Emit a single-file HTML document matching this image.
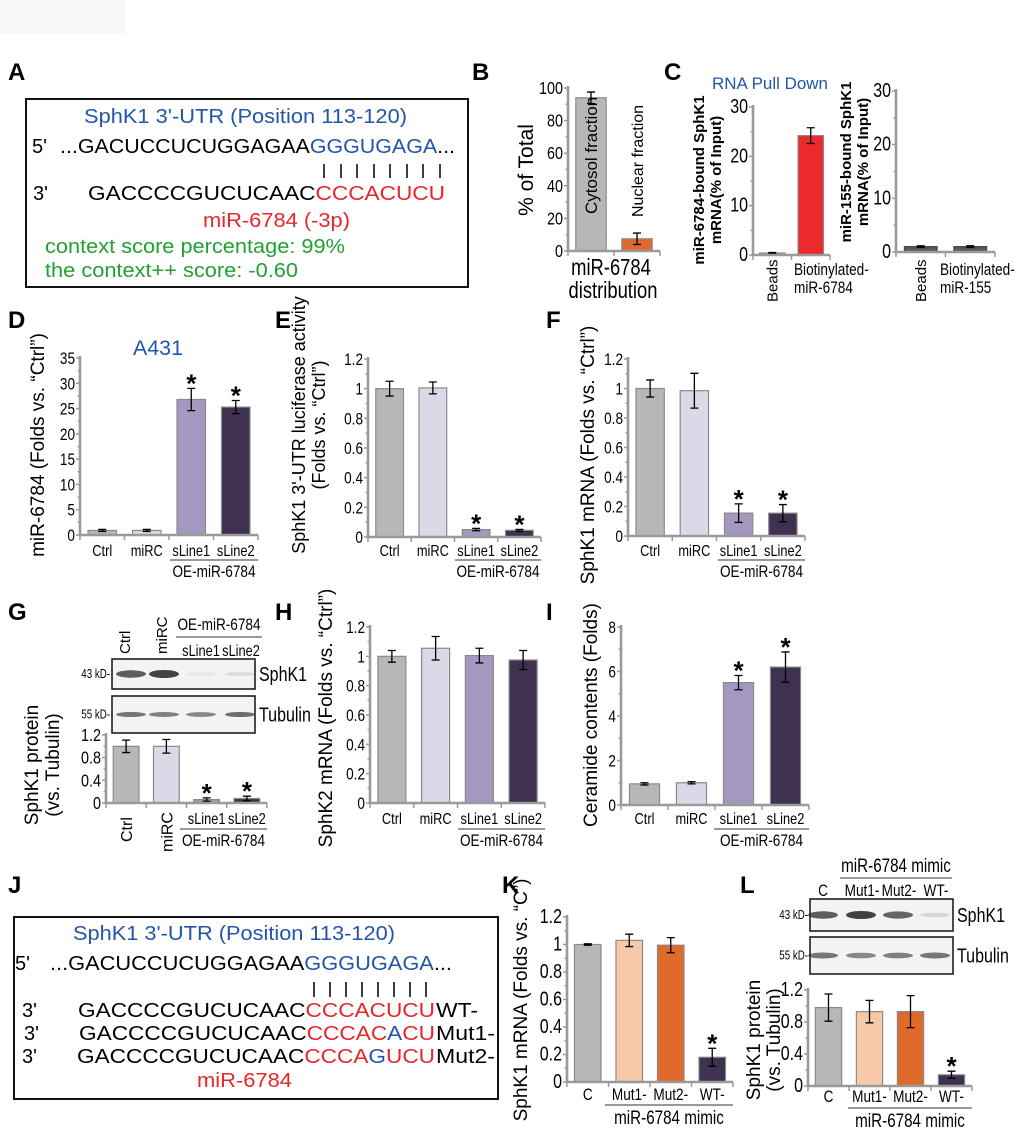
<!DOCTYPE html>
<html><head><meta charset="utf-8"><style>
html,body{margin:0;padding:0;background:#fff}
svg{display:block;font-family:"Liberation Sans",Arial,sans-serif}
</style></head><body>
<svg id="fig" width="1020" height="1133" viewBox="0 0 1020 1133" xmlns="http://www.w3.org/2000/svg">
<rect width="1020" height="1133" fill="#fff"/>
<rect x="0" y="0" width="125" height="34" fill="#f7f7f7"/>
<g font-weight="bold" font-size="24" fill="#000">
<text x="8" y="80">A</text><text x="472" y="80">B</text><text x="664" y="80">C</text>
<text x="8" y="328">D</text><text x="275" y="328">E</text><text x="546" y="328">F</text>
<text x="8" y="620">G</text><text x="275" y="620">H</text><text x="546" y="620">I</text>
<text x="8" y="893">J</text><text x="502" y="893">K</text><text x="740" y="893">L</text>
</g>
<g>
<rect x="26" y="99" width="442" height="188" fill="none" stroke="#111" stroke-width="2"/>
<text x="84" y="123" font-size="20" fill="#2255aa" textLength="323" lengthAdjust="spacingAndGlyphs">SphK1 3'-UTR (Position 113-120)</text>
<text x="32" y="153" font-size="20">5'</text>
<text x="60" y="153" font-size="20" textLength="395" lengthAdjust="spacingAndGlyphs">...GACUCCUCUGGAGAA<tspan fill="#2255aa">GGGUGAGA</tspan>...</text>
<g stroke="#000" stroke-width="1.5">
<path d="M324 164V178M341 164V178M357 164V178M374 164V178M390 164V178M407 164V178M423 164V178M440 164V178"/></g>
<text x="33" y="200" font-size="20">3'</text>
<text x="88" y="200" font-size="20" textLength="357" lengthAdjust="spacingAndGlyphs">GACCCCGUCUCAAC<tspan fill="#e8262a">CCCACUCU</tspan></text>
<text x="203" y="227" font-size="20" fill="#e8262a" textLength="147" lengthAdjust="spacingAndGlyphs">miR-6784 (-3p)</text>
<text x="45" y="253" font-size="20" fill="#22a033" textLength="300" lengthAdjust="spacingAndGlyphs">context score percentage: 99%</text>
<text x="45" y="277" font-size="20" fill="#22a033" textLength="253" lengthAdjust="spacingAndGlyphs">the context++ score: -0.60</text>
</g>
<g>
<rect x="14" y="917" width="484" height="182" fill="none" stroke="#111" stroke-width="2"/>
<text x="73" y="940" font-size="20" fill="#2255aa" textLength="322" lengthAdjust="spacingAndGlyphs">SphK1 3'-UTR (Position 113-120)</text>
<text x="15" y="970" font-size="20">5'</text>
<text x="50" y="970" font-size="20" textLength="402" lengthAdjust="spacingAndGlyphs">...GACUCCUCUGGAGAA<tspan fill="#2255aa">GGGUGAGA</tspan>...</text>
<g stroke="#000" stroke-width="1.5"><path d="M314 982V997M330 982V997M346 982V997M362 982V997M378 982V997M394 982V997M410 982V997M426 982V997"/></g>
<text x="22" y="1017" font-size="20">3'</text>
<text x="78" y="1017" font-size="20" textLength="357" lengthAdjust="spacingAndGlyphs">GACCCCGUCUCAAC<tspan fill="#e8262a">CCCACUCU</tspan></text>
<text x="436" y="1017" font-size="20" textLength="42" lengthAdjust="spacingAndGlyphs">WT-</text>
<text x="24" y="1040" font-size="20">3'</text>
<text x="79" y="1040" font-size="20" textLength="356" lengthAdjust="spacingAndGlyphs">GACCCCGUCUCAAC<tspan fill="#e8262a">CCCAC</tspan><tspan fill="#2255aa">A</tspan><tspan fill="#e8262a">CU</tspan></text>
<text x="436" y="1040" font-size="20" textLength="59" lengthAdjust="spacingAndGlyphs">Mut1-</text>
<text x="22" y="1063" font-size="20">3'</text>
<text x="77" y="1063" font-size="20" textLength="358" lengthAdjust="spacingAndGlyphs">GACCCCGUCUCAAC<tspan fill="#e8262a">CCCA</tspan><tspan fill="#2255aa">G</tspan><tspan fill="#e8262a">UCU</tspan></text>
<text x="436" y="1063" font-size="20" textLength="59" lengthAdjust="spacingAndGlyphs">Mut2-</text>
<text x="197" y="1087" font-size="20" fill="#e8262a" textLength="95" lengthAdjust="spacingAndGlyphs">miR-6784</text>
</g>
<text x="712" y="89" font-size="17" fill="#2255aa" textLength="116" lengthAdjust="spacingAndGlyphs">RNA Pull Down</text>
<text x="133" y="355" font-size="21" fill="#2255aa" textLength="50" lengthAdjust="spacingAndGlyphs">A431</text>
<g id="blots"></g>
<g id="charts"></g>
</svg>
<script>
const bCats=["Cytosol fraction","Nuclear fraction"];
const bVals=[94,7.5];
const bErr=[3.5,3.5];
const bTicks=[0,20,40,60,80,100];

const c1Cats=["Beads","Biotinylated-miR-6784"];
const c1Vals=[0.4,24.2];
const c1Err=[0.1,1.6];
const c2Cats=["Beads","Biotinylated-miR-155"];
const c2Vals=[1.0,1.0];
const c2Err=[0.15,0.15];
const cTicks=[0,10,20,30];

const oeCats=["Ctrl","miRC","sLine1","sLine2"];
const dVals=[0.9,0.9,26.8,25.3];
const dErr=[0.2,0.2,2.2,1.3];
const dTicks=[0,5,10,15,20,25,30,35];
const eVals=[1.0,1.005,0.05,0.045];
const eErr=[0.05,0.04,0.008,0.006];
const fVals=[1.0,0.985,0.155,0.155];
const fErr=[0.058,0.118,0.063,0.058];
const t12=[0,0.2,0.4,0.6,0.8,1,1.2];
const gVals=[1.0,1.0,0.06,0.08];
const gErr=[0.11,0.12,0.03,0.04];
const t04=[0,0.4,0.8,1.2];
const hVals=[1.0,1.055,1.005,0.975];
const hErr=[0.04,0.08,0.05,0.065];
const iVals=[0.95,1.0,5.5,6.2];
const iErr=[0.05,0.05,0.32,0.68];
const iTicks=[0,2,4,6,8];
const mutCats=["C","Mut1-","Mut2-","WT-"];
const kVals=[1.0,1.03,0.995,0.18];
const kErr=[0.005,0.045,0.055,0.065];
const lVals=[0.98,0.93,0.93,0.14];
const lErr=[0.17,0.14,0.2,0.045];
const gBlotSphk1=[0.85,1.0,0.02,0.12];
const gBlotTub=[0.7,0.65,0.6,0.75];
const lBlotSphk1=[0.85,1.0,0.8,0.15];
const lBlotTub=[0.7,0.6,0.65,0.7];

const GRAY="#b7b7b7",LAV="#dcd8e8",MID="#a498c0",DARK="#3f3150",RED="#ec2a2c",ORA="#e0692c",PEACH="#f7c9a9",DG="#5a5a5a";
const NS="http://www.w3.org/2000/svg";
const SQ=0.8;
function mk(tag,attrs,parent){const e=document.createElementNS(NS,tag);for(const k in attrs)e.setAttribute(k,attrs[k]);parent.appendChild(e);return e;}
const root=document.getElementById('charts');

function chart(name,o,vals,errs,ticks,colors,stars){
  const g=mk('g',{},root);
  
  
  const max=ticks[ticks.length-1];
  const y=v=>o.y0-(v/max)*(o.y0-o.yTop);
  const n=vals.length, slot=(o.xEnd-o.ax)/n, bw=slot*(o.bw||0.64);
  const cx=i=>o.ax+slot*(i+0.5);
  vals.forEach((v,i)=>{
    const r=mk('rect',{x:cx(i)-bw/2,y:y(v),width:bw,height:Math.max(0,o.y0-y(v)),fill:colors[i],stroke:o.edge||"#8a8a8a","stroke-width":1.2},g);
    
    
    const e=errs[i],top=y(v+e),bot=y(v-e);
    const eb=mk('path',{d:`M${cx(i)} ${top}V${bot}M${cx(i)-4} ${top}H${cx(i)+4}M${cx(i)-4} ${bot}H${cx(i)+4}`,stroke:"#000","stroke-width":1.3,fill:"none"},g);
    
    
    if(stars&&stars[i]){
      const s=mk('text',{x:cx(i),y:top+4,"font-size":26,"text-anchor":"middle","font-weight":"bold"},g);
      
      
      s.textContent='*';
    }
  });
  const ax=mk('path',{d:`M${o.ax} ${o.yTop-2}V${o.y0}H${o.xEnd}`,stroke:"#9a9a9a","stroke-width":2.6,fill:"none"},g);
  
  
  let tk='';
  ticks.forEach(t=>{tk+=`M${o.ax-4} ${y(t)}H${o.ax}`;});
  for(let i=0;i<ticks.length-1;i++){const m=(ticks[i]+ticks[i+1])/2;tk+=`M${o.ax-2.5} ${y(m)}H${o.ax}`;}
  for(let i=0;i<=n;i++){tk+=`M${o.ax+slot*i} ${o.y0}V${o.y0+5}`;}
  mk('path',{d:tk,stroke:"#9a9a9a","stroke-width":1.5},g);
  ticks.forEach(t=>{
    const tl=mk('text',{x:0,y:0,"font-size":o.tfs||17,"text-anchor":"end",transform:`translate(${o.ax-5},${y(t)+6}) scale(${SQ},1)`},g);
    
    
    tl.textContent=String(t);
  });
  return {cx,y,slot};
}
function label(txt,x,y,fs,anchor,rot,sq,extra){
  let tr=`translate(${x},${y})`+(rot?` rotate(${rot})`:'')+(sq?` scale(${sq},1)`:'');
  const t=mk('text',Object.assign({x:0,y:0,"font-size":fs,"text-anchor":anchor||"middle",transform:tr},extra||{}),root);
  
  
  t.textContent=txt;return t;
}
function catLabels(c,cats,y,fs){cats.forEach((s,i)=>label(s,c.cx(i),y,fs||16,'middle',0,SQ));}
function group(x1,x2,yl,txt,yt,fs){
  const p=mk('path',{d:`M${x1} ${yl}H${x2}`,stroke:"#999","stroke-width":2},root);
  
  
  label(txt,(x1+x2)/2,yt,fs||17,'middle',0,SQ);
}
const B={"font-weight":"bold"};
// B
let c=chart('chart-b-distribution',{ax:568,xEnd:660,y0:251,yTop:88,bw:0.66,tfs:18},bVals,bErr,bTicks,[GRAY,ORA]);
label(bCats[0],c.cx(0)+6,214,17,'start',-90);
label(bCats[1],c.cx(1)+6,217,16,'start',-90);
label('% of Total',533,170,21,'middle',-90);
label('miR-6784',611,275,23,'middle',0,SQ);label('distribution',613,298,23,'middle',0,SQ);
// C1
c=chart('chart-c-mir6784-pulldown',{ax:753,xEnd:830,y0:255,yTop:107,bw:0.66,tfs:20},c1Vals,c1Err,cTicks,[GRAY,RED]);
label('Beads',c.cx(0)+5,302,15,'start',-90);
label('Biotinylated-',794,275,17,'start',0,SQ);label('miR-6784',794,293,17,'start',0,SQ);
label('miR-6784-bound SphK1',704,180,15,'middle',-90,0,B);
label('mRNA(% of Input)',721,180,15,'middle',-90,0,B);
// C2
c=chart('chart-c-mir155-pulldown',{ax:896,xEnd:995,y0:252,yTop:91,bw:0.66,tfs:20,edge:"#444"},c2Vals,c2Err,cTicks,[DG,DG]);
label('Beads',c.cx(0)+5,302,15,'start',-90);
label('Biotinylated-',940,275,17,'start',0,SQ);label('miR-155',940,293,17,'start',0,SQ);
label('miR-155-bound SphK1',851,162,15,'middle',-90,0,B);
label('mRNA(% of Input)',868,162,15,'middle',-90,0,B);
const OE=[GRAY,LAV,MID,DARK],ST=[0,0,1,1];
// D
c=chart('chart-d-mir6784-level',{ax:80,xEnd:258,y0:535,yTop:358},dVals,dErr,dTicks,OE,ST);
catLabels(c,oeCats,556);group(170,258,560,'OE-miR-6784',577);
label('miR-6784 (Folds vs. “Ctrl”)',44,445,19,'middle',-90);
// E
c=chart('chart-e-luciferase',{ax:368,xEnd:541,y0:537,yTop:359},eVals,eErr,t12,OE,ST);
catLabels(c,oeCats,556);group(455,541,560,'OE-miR-6784',577);
label('SphK1 3\'-UTR luciferase activity',305,425,18,'middle',-90);
label('(Folds vs. “Ctrl”)',325,425,18,'middle',-90);
// F
c=chart('chart-f-sphk1-mrna',{ax:628,xEnd:805,y0:536,yTop:359},fVals,fErr,t12,OE,ST);
catLabels(c,oeCats,556);group(718,805,560,'OE-miR-6784',577);
label('SphK1 mRNA (Folds vs. “Ctrl”)',594,455,19,'middle',-90);
// G
c=chart('chart-g-sphk1-protein',{ax:106,xEnd:267,y0:803,yTop:735,tfs:18},gVals,gErr,t04,OE,ST);
label('Ctrl',c.cx(0)+6,842,16,'start',-90);label('miRC',c.cx(1)+6,852,16,'start',-90);
label('sLine1',c.cx(2),824,16,'middle',0,SQ);label('sLine2',c.cx(3),824,16,'middle',0,SQ);
group(180,267,829,'OE-miR-6784',846);
label('SphK1 protein',38,765,19,'middle',-90);label('(vs. Tubulin)',59,765,19,'middle',-90);
// H
c=chart('chart-h-sphk2-mrna',{ax:370,xEnd:545,y0:803,yTop:627},hVals,hErr,t12,OE);
catLabels(c,oeCats,824);group(458,545,829,'OE-miR-6784',846);
label('SphK2 mRNA (Folds vs. “Ctrl”)',332,718,19,'middle',-90);
// I
c=chart('chart-i-ceramide',{ax:621,xEnd:809,y0:805,yTop:627},iVals,iErr,iTicks,OE,ST);
catLabels(c,oeCats,824);group(714,809,829,'OE-miR-6784',846);
label('Ceramide contents (Folds)',597,715,19,'middle',-90);
// K
const MUT=[GRAY,PEACH,ORA,DARK];
c=chart('chart-k-sphk1-mrna-mutants',{ax:567,xEnd:733,y0:1082,yTop:917,tfs:20},kVals,kErr,t12,MUT,[0,0,0,1]);
catLabels(c,mutCats,1100,17);group(605,733,1105,'miR-6784 mimic',1124,19);
label('SphK1 mRNA (Folds vs. “C”)',527,1000,19,'middle',-90);
// L
c=chart('chart-l-sphk1-protein-mutants',{ax:808,xEnd:972,y0:1086,yTop:990,tfs:20},lVals,lErr,t04,MUT,[0,0,0,1]);
catLabels(c,mutCats,1102,17);group(848,972,1108,'miR-6784 mimic',1127,19);
label('SphK1 protein',760,1040,19,'middle',-90);label('(vs. Tubulin)',780,1040,19,'middle',-90);

const broot=document.getElementById('blots');
function blot(name,x,y,w,h,lanes,intens,bandW,bandH,kd,prot){
  const g=mk('g',{},broot);
  
  
  mk('rect',{x,y,width:w,height:h,fill:"#f3f3f3",stroke:"#111","stroke-width":1.5},g);
  intens.forEach((v,i)=>{
    const b=mk('ellipse',{cx:lanes[i],cy:y+h/2,rx:bandW/2,ry:bandH*(0.5+0.5*v)/2,fill:"#222","fill-opacity":Math.max(0.05,v*0.85)},g);
    
    
  });
  label(kd,x-2,y+h/2+4,13,'end',0,0.75);
  label(prot,x+w+4,y+h/2+7,20,'start',0,SQ);
}
blot('g-blot-sphk1',112,659,143,30,[131,164,201,240],gBlotSphk1,30,8,'43 kD-','SphK1');
blot('g-blot-tubulin',112,696,143,37,[131,164,201,240],gBlotTub,30,6,'55 kD-','Tubulin');
label('Ctrl',130,654,15,'start',-90);label('miRC',167,654,15,'start',-90);
label('sLine1',201,656,16,'middle',0,SQ);label('sLine2',241,656,16,'middle',0,SQ);
group(176,262,637,'OE-miR-6784',630,17);
blot('l-blot-sphk1',810,899,143,32,[823,861,898,935],lBlotSphk1,30,8,'43 kD-','SphK1');
blot('l-blot-tubulin',810,937,143,37,[823,861,898,935],lBlotTub,30,7,'55 kD-','Tubulin');
label('C',823,896,17,'middle',0,SQ);label('Mut1-',862,896,17,'middle',0,SQ);label('Mut2-',899,896,17,'middle',0,SQ);label('WT-',936,896,17,'middle',0,SQ);
group(840,952,878,'miR-6784 mimic',872,19);
</script>
</body></html>
